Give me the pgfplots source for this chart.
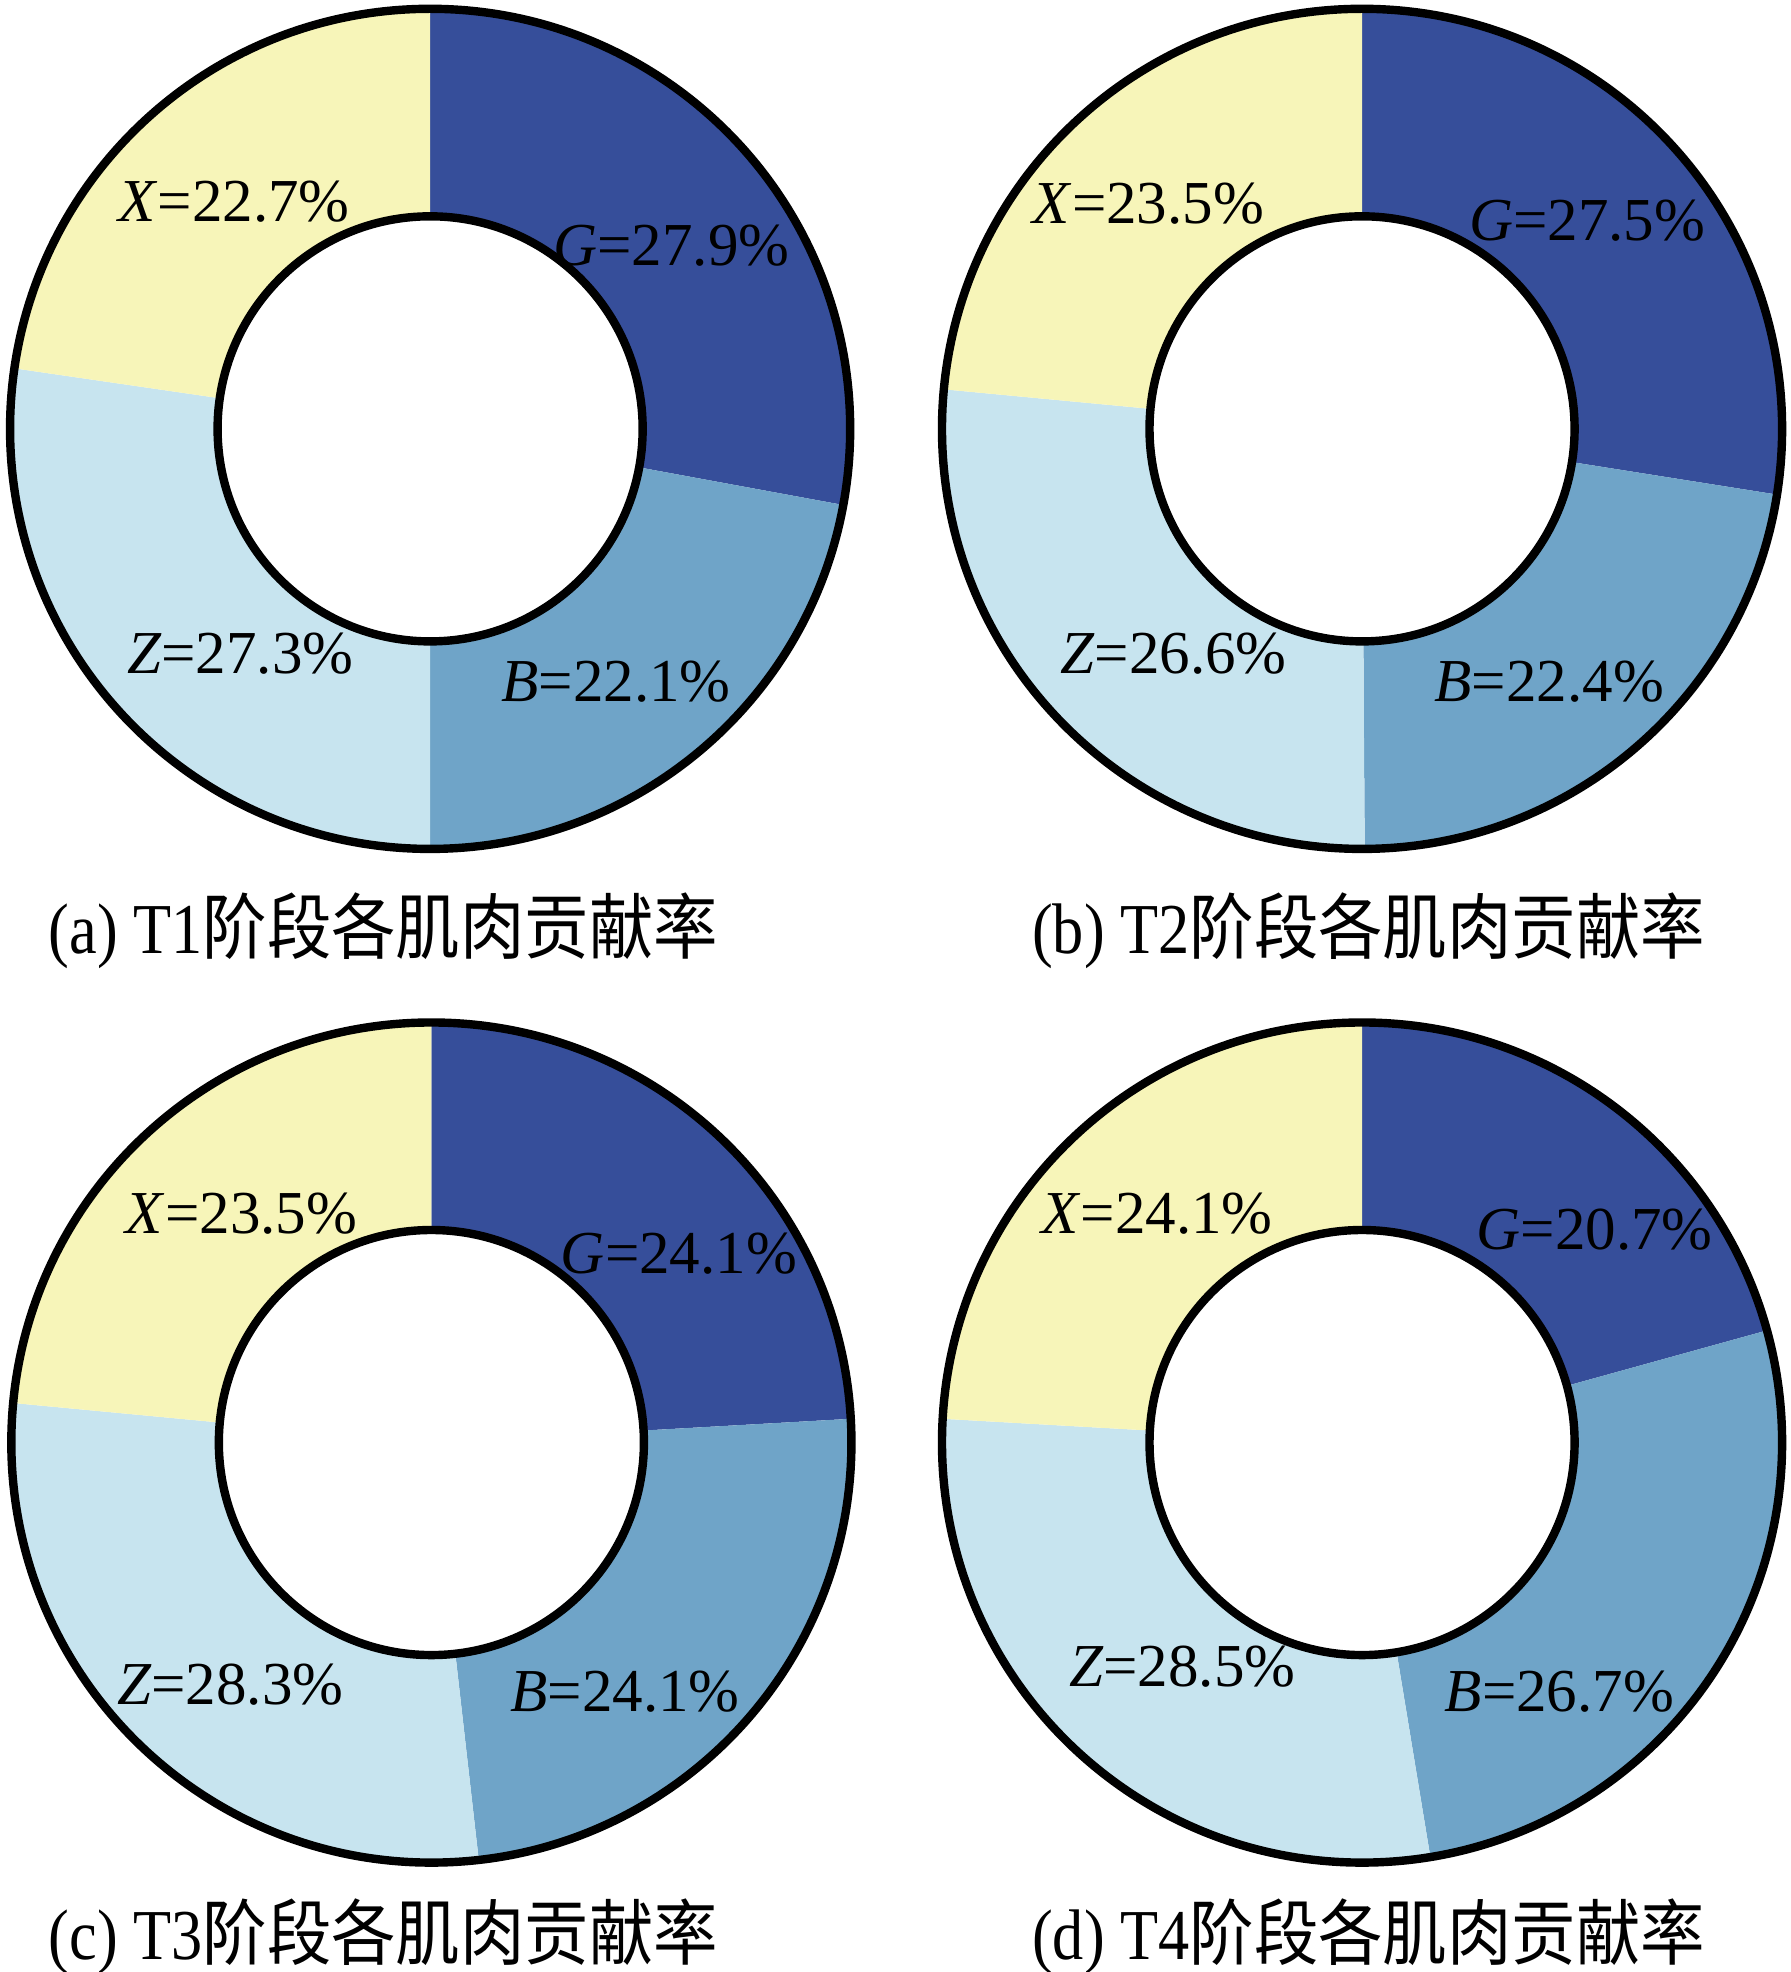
\documentclass[border=0pt]{standalone}
\usepackage{fontspec}
\setmainfont{Liberation Serif}
\newfontfamily\cjk{Noto Sans CJK SC}
\usepackage{graphicx}
\usepackage{pgfplots}
\usepackage{pgfplotstable}
\pgfplotsset{compat=1.18}

\definecolor{slice0}{HTML}{364E9A}
\definecolor{slice1}{HTML}{6FA4C8}
\definecolor{slice2}{HTML}{C7E4EF}
\definecolor{slice3}{HTML}{F7F5B9}

% muscle contribution, order G B Z X (clockwise from top)
\pgfplotstableread{
muscle value
G 27.9
B 22.1
Z 27.3
X 22.7
}\tA
\pgfplotstableread{
muscle value
G 27.5
B 22.4
Z 26.6
X 23.5
}\tB
\pgfplotstableread{
muscle value
G 24.1
B 24.1
Z 28.3
X 23.5
}\tC
\pgfplotstableread{
muscle value
G 20.7
B 26.7
Z 28.5
X 24.1
}\tD

\def\rout{3.34cm}
\def\rin{1.69cm}

\newcommand\donut[1]{%
  \def\angA{90}%
  \pgfplotsforeachungrouped \i in {0,...,3}{%
    \pgfplotstablegetelem{\i}{value}\of{#1}\let\val\pgfplotsretval
    \pgfmathsetmacro\angB{\angA-3.6*\val}%
    \edef\temp{\noexpand\fill[slice\i] (axis cs:0,0) -- ++(\angA:\rout)
      arc[start angle=\angA, end angle=\angB, radius=\rout] -- cycle;}%
    \temp
    \let\angA\angB
  }%
  \draw[line width=1.9pt] (axis cs:0,0) circle[radius=\rout];
  \draw[line width=1.9pt, fill=white] (axis cs:0,0) circle[radius=\rin];
}

\pgfplotsset{donutax/.style={hide axis, clip=false, x=0.01cm, y=0.01cm,
  xmin=-340, xmax=340, ymin=-340, ymax=340, anchor=center,
  nodes={font=\fontsize{13.8}{16}\selectfont, inner sep=0pt}}}

\newcommand\lab[2]{\textit{#1}=#2\%}
\newcommand\subcap[2]{\fontsize{16.2}{19}\selectfont\scalebox{0.87}[1]{#1 #2}\scalebox{0.9}[1]{\cjk 阶段各肌肉贡献率}}

\begin{document}
\begin{tikzpicture}
\useasboundingbox (0,0) rectangle (14.24,-15.68);

\begin{axis}[donutax, at={(3.42cm,-3.41cm)}]
\donut{\tA}
\node at (axis cs:-156,181) {\lab{X}{22.7}};
\node at (axis cs:192,146) {\lab{G}{27.9}};
\node at (axis cs:-151,-179) {\lab{Z}{27.3}};
\node at (axis cs:148,-201) {\lab{B}{22.1}};
\end{axis}

\begin{axis}[donutax, at={(10.83cm,-3.41cm)}]
\donut{\tB}
\node at (axis cs:-170,179) {\lab{X}{23.5}};
\node at (axis cs:179,166) {\lab{G}{27.5}};
\node at (axis cs:-150,-179) {\lab{Z}{26.6}};
\node at (axis cs:149,-201) {\lab{B}{22.4}};
\end{axis}

\begin{axis}[donutax, at={(3.43cm,-11.47cm)}]
\donut{\tC}
\node at (axis cs:-151,182) {\lab{X}{23.5}};
\node at (axis cs:197,150) {\lab{G}{24.1}};
\node at (axis cs:-160,-193) {\lab{Z}{28.3}};
\node at (axis cs:154,-198) {\lab{B}{24.1}};
\end{axis}

\begin{axis}[donutax, at={(10.83cm,-11.47cm)}]
\donut{\tD}
\node at (axis cs:-163,182) {\lab{X}{24.1}};
\node at (axis cs:185,169) {\lab{G}{20.7}};
\node at (axis cs:-143,-178) {\lab{Z}{28.5}};
\node at (axis cs:157,-198) {\lab{B}{26.7}};
\end{axis}

\node[anchor=west, inner sep=0pt] at (0.38,-7.40) {\subcap{(a)}{T1}};
\node[anchor=west, inner sep=0pt] at (8.20,-7.40) {\subcap{(b)}{T2}};
\node[anchor=west, inner sep=0pt] at (0.38,-15.40) {\subcap{(c)}{T3}};
\node[anchor=west, inner sep=0pt] at (8.20,-15.40) {\subcap{(d)}{T4}};
\end{tikzpicture}
\end{document}
